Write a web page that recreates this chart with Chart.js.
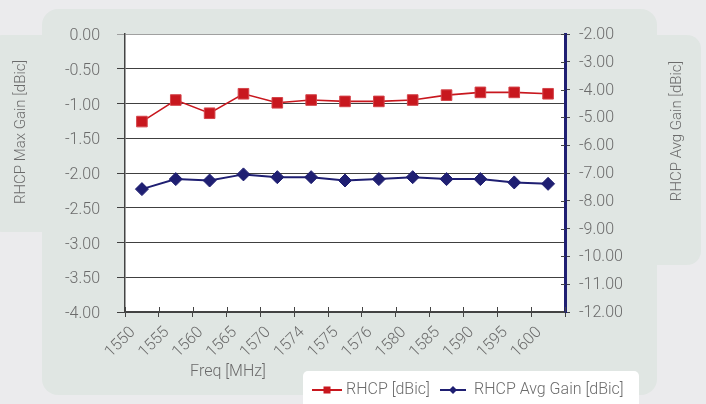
<!DOCTYPE html>
<html><head><meta charset="utf-8">
<script src="https://cdn.jsdelivr.net/npm/chart.js@4.4.1/dist/chart.umd.min.js"></script>
<style>
html,body{margin:0;padding:0;background:#ebebed;overflow:hidden;}
#wrap{position:relative;width:706px;height:404px;overflow:hidden;}
.p{position:absolute;background:#e0e6e3;}
#main{left:42px;top:9px;width:615px;height:386px;border-radius:16px;}
#lw{left:-12px;top:35px;width:72px;height:197px;border-radius:14px;}
#rw{left:630px;top:35px;width:71px;height:230px;border-radius:14px;}
#lg{position:absolute;left:303px;top:371px;width:336px;height:50px;background:#fff;border-radius:5px;}
canvas{position:absolute;left:0;top:0;}
</style></head>
<body>
<div id="wrap">
  <div class="p" id="lw"></div>
  <div class="p" id="rw"></div>
  <div class="p" id="main"></div>
  <div id="lg"></div>
  <canvas id="c" width="706" height="404"></canvas>
</div>
<script>
const categories = ['1550','1555','1560','1565','1570','1574','1575','1576','1580','1585','1590','1595','1600'];
const rhcpMax = [-1.26,-0.95,-1.14,-0.86,-0.99,-0.95,-0.97,-0.97,-0.95,-0.88,-0.84,-0.84,-0.86];
const rhcpAvg = [-7.58,-7.22,-7.27,-7.05,-7.15,-7.15,-7.27,-7.22,-7.15,-7.22,-7.22,-7.34,-7.39];
const leftTitle = 'RHCP Max Gain [dBic]';
const rightTitle = 'RHCP Avg Gain [dBic]';
const xTitle = 'Freq [MHz]';
const seriesNames = ['RHCP [dBic]','RHCP Avg Gain [dBic]'];

const FAM = 'Roboto, "Liberation Sans", sans-serif';
const TXT = '#6b6b6b';
const RED = '#c8171e';
const NAVY = '#1f1f72';

const deco = {
  id:'deco',
  beforeDraw(chart){
    const {ctx, chartArea:a} = chart;
    ctx.save(); ctx.fillStyle='#ffffff';
    ctx.fillRect(a.left,a.top,a.right-a.left,a.bottom-a.top);
    ctx.restore();
  },
  afterDraw(chart){
    const {ctx, chartArea:a, scales} = chart;
    ctx.save();
    ctx.strokeStyle='#444'; ctx.lineWidth=1;
    const ys = scales.y1;
    ys.ticks.forEach((t,i)=>{const py=Math.round(ys.getPixelForTick(i))+0.5; ctx.beginPath(); ctx.moveTo(a.right-4,py); ctx.lineTo(a.right,py); ctx.stroke();});
    const xs = scales.x;
    for(let i=0;i<=categories.length;i++){
      const px=Math.round(xs.getPixelForValue(i-0.5))+0.5;
      ctx.beginPath(); ctx.moveTo(px,a.bottom-5); ctx.lineTo(px,a.bottom); ctx.stroke();
    }
    ctx.fillStyle=TXT; ctx.textAlign='center'; ctx.textBaseline='middle';
    ctx.font='300 15px '+FAM;
    ctx.save(); ctx.translate(21,132); ctx.rotate(-Math.PI/2); ctx.fillText(leftTitle,0,0); ctx.restore();
    ctx.save(); ctx.translate(677,131); ctx.rotate(-Math.PI/2); ctx.fillText(rightTitle,0,0); ctx.restore();
    ctx.font='300 16px '+FAM;
    ctx.fillText(xTitle,228,372);
    const ly=390;
    ctx.textAlign='left';
    ctx.strokeStyle=RED; ctx.lineWidth=2;
    ctx.beginPath(); ctx.moveTo(312,ly); ctx.lineTo(342,ly); ctx.stroke();
    ctx.fillStyle=RED; ctx.fillRect(323.5,ly-3.5,7,7);
    ctx.fillStyle=TXT; ctx.fillText(seriesNames[0],346,ly);
    ctx.strokeStyle=NAVY; ctx.lineWidth=2;
    ctx.beginPath(); ctx.moveTo(440,ly); ctx.lineTo(466,ly); ctx.stroke();
    ctx.fillStyle=NAVY; ctx.beginPath(); ctx.moveTo(453,ly-4); ctx.lineTo(457,ly); ctx.lineTo(453,ly+4); ctx.lineTo(449,ly); ctx.closePath(); ctx.fill();
    ctx.fillStyle=TXT; ctx.fillText(seriesNames[1],474,ly);
    ctx.restore();
  }
};

new Chart(document.getElementById('c'),{
  type:'line',
  data:{
    labels:categories,
    datasets:[
      {label:seriesNames[0],data:rhcpMax,yAxisID:'y',borderColor:RED,backgroundColor:RED,borderWidth:1.6,
       pointStyle:'rect',pointRadius:7.5,pointBackgroundColor:RED,pointBorderColor:'#d4444a',pointBorderWidth:1,tension:0},
      {label:seriesNames[1],data:rhcpAvg,yAxisID:'y1',borderColor:NAVY,backgroundColor:NAVY,borderWidth:2,
       pointStyle:'rectRot',pointRadius:6.5,pointBackgroundColor:NAVY,pointBorderColor:NAVY,pointBorderWidth:1,tension:0}
    ]
  },
  options:{
    responsive:false,animation:false,devicePixelRatio:1,
    layout:{padding:{top:34,left:0,right:0,bottom:0}},
    plugins:{legend:{display:false},tooltip:{enabled:false}},
    scales:{
      x:{type:'category',offset:true,
        grid:{offset:true,drawOnChartArea:false,tickLength:5,color:'#444'},
        border:{color:'#444',width:1.5},
        ticks:{autoSkip:false,minRotation:45,maxRotation:45,color:TXT,font:{family:FAM,size:16,weight:'300'},labelOffset:-9,padding:6},
        afterFit(s){s.height=92;}
      },
      y:{position:'left',min:-4,max:0,
        grid:{color:(c)=> (c.tick && c.tick.value===0) ? '#a0a0a0' : '#404040',tickLength:8,lineWidth:1},
        border:{color:'#444',width:1.5},
        ticks:{stepSize:0.5,padding:17,labelOffset:2,color:TXT,font:{family:FAM,size:16,weight:'300'},callback:(v)=>Number(v).toFixed(2)},
        afterFit(s){s.width=125;}
      },
      y1:{position:'right',min:-12,max:-2,
        grid:{drawOnChartArea:false,tickLength:5,color:'#444'},
        border:{color:NAVY,width:3},
        ticks:{stepSize:1,padding:9,labelOffset:1,color:TXT,font:{family:FAM,size:16,weight:'300'},callback:(v)=>Number(v).toFixed(2)},
        afterFit(s){s.width=141;}
      }
    }
  },
  plugins:[deco]
});
</script>
</body></html>
